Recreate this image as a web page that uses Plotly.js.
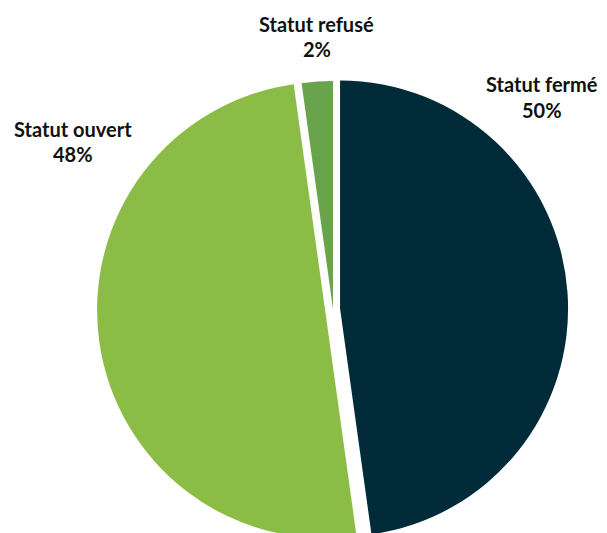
<!DOCTYPE html>
<html>
<head>
<meta charset="utf-8">
<script src="https://cdn.plot.ly/plotly-3.0.1.min.js"></script>
<style>
  html, body { margin: 0; padding: 0; background: #ffffff; overflow: hidden; }
  #chart { width: 607px; height: 560px; }
</style>
</head>
<body>
<div id="chart"></div>
<script>
// ---- data ----
const categories = ['Statut fermé', 'Statut ouvert', 'Statut refusé'];
const sliceValues = [47.8, 50.0, 2.2];
// percentages as printed on the labels of the reference
const printedPercents = ['50%', '48%', '2%'];
const sliceColors = ['#022b3a', '#8bbd46', '#69a44c'];

// ---- layout / style ----
const W = 607, H = 560;
const pulls = [0.031, 0.035, 0];
// label positions (pixel centres, baselines) of the name line and percent line
const labelPos = [
  { x: 542, y1: 91, y2: 117 },
  { x: 73, y1: 136, y2: 161 },
  { x: 316.5, y1: 31, y2: 56 }
];
const FS = 20;
const labelFont = { family: 'Lato, "Open Sans", sans-serif', size: FS, color: '#111111', weight: 700 };

const annotations = [];
categories.forEach((name, i) => {
  const p = labelPos[i];
  [[name, p.y1], [printedPercents[i], p.y2]].forEach(([txt, base]) => {
    annotations.push({
      text: txt, xref: 'paper', yref: 'paper',
      x: p.x / W, y: 1 - (base - 0.37 * FS) / H,
      xanchor: 'center', yanchor: 'middle',
      showarrow: false, font: labelFont
    });
  });
});

const trace = {
  type: 'pie',
  labels: categories,
  values: sliceValues,
  sort: false,
  direction: 'clockwise',
  rotation: 0,
  pull: pulls,
  marker: { colors: sliceColors, line: { width: 0, color: '#ffffff' } },
  textinfo: 'none',
  textposition: 'none',
  hoverinfo: 'skip',
  showlegend: false,
  domain: { x: [97 / W, 569 / W], y: [15 / H, 487 / H] }
};

const layout = {
  width: W, height: H,
  margin: { l: 0, r: 0, t: 0, b: 0 },
  paper_bgcolor: '#ffffff',
  plot_bgcolor: '#ffffff',
  showlegend: false,
  annotations: annotations
};

Plotly.newPlot('chart', [trace], layout, { staticPlot: true, displayModeBar: false });
</script>
</body>
</html>
